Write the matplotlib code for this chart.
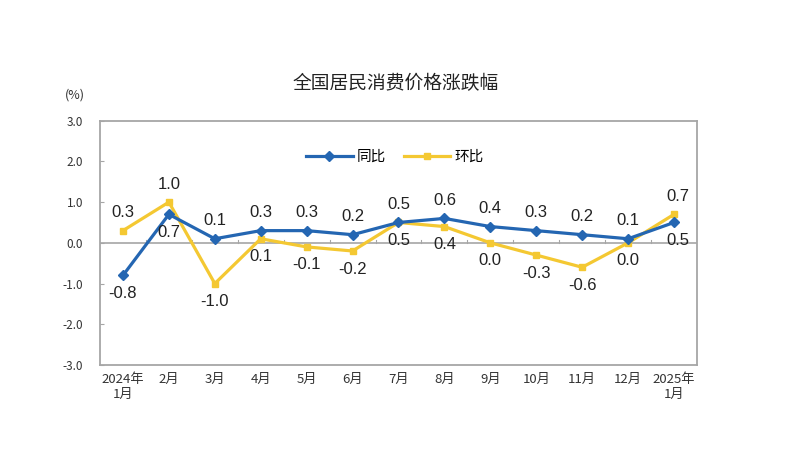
import matplotlib
matplotlib.use("Agg")
import matplotlib.pyplot as plt

plt.rcParams['font.family'] = ['Noto Sans CJK SC', 'DejaVu Sans']

# 数据
months = ["2024年\n1月", "2月", "3月", "4月", "5月", "6月", "7月",
          "8月", "9月", "10月", "11月", "12月", "2025年\n1月"]
tongbi = [-0.8, 0.7, 0.1, 0.3, 0.3, 0.2, 0.5, 0.6, 0.4, 0.3, 0.2, 0.1, 0.5]
huanbi = [0.3, 1.0, -1.0, 0.1, -0.1, -0.2, 0.5, 0.4, 0.0, -0.3, -0.6, 0.0, 0.7]

# 标签位置: 1 = 上方, -1 = 下方
tongbi_pos = [-1, -1, 1, 1, 1, 1, 1, 1, 1, 1, 1, 1, -1]
huanbi_pos = [1, 1, -1, -1, -1, -1, -1, -1, -1, -1, -1, -1, 1]

blue = "#2466B2"
yellow = "#F4C832"
gray = "#A6A6A6"

fig = plt.figure(figsize=(8, 4.63), dpi=100)
ax = fig.add_axes([0.125, 0.2117, 0.7462, 0.5276])

x = list(range(len(months)))
ax.plot(x, tongbi, color=blue, lw=2.3, marker="D", markersize=5, label="同比", zorder=4)
ax.plot(x, huanbi, color=yellow, lw=2.3, marker="s", markersize=5, label="环比", zorder=3)

ax.axhline(0, color=gray, lw=1.2, zorder=1)
for k in range(len(months) - 1):
    ax.plot([k + 0.5, k + 0.5], [0, 0.08], color=gray, lw=0.8, zorder=1)

def put_labels(vals, pos):
    for i, (v, p) in enumerate(zip(vals, pos)):
        dx = 3 if i == len(vals) - 1 else 0
        ax.annotate(f"{v:.1f}", (i, v), xytext=(dx, 13 * p), textcoords="offset points",
                    ha="center", va="center", fontsize=12, color="#222222",
                    family=["Liberation Sans", "DejaVu Sans"], zorder=5)

put_labels(tongbi, tongbi_pos)
put_labels(huanbi, huanbi_pos)

ax.set_xlim(-0.5, len(months) - 0.5)
ax.set_ylim(-3, 3)
ax.set_yticks([3, 2, 1, 0, -1, -2, -3])
ax.set_yticklabels(["3.0", "2.0", "1.0", "0.0", "-1.0", "-2.0", "-3.0"])
ax.set_xticks(x)
ax.set_xticklabels(months, multialignment="center")
ax.tick_params(axis="x", length=0, pad=6, labelsize=9.5, colors="#333333")
ax.tick_params(axis="y", direction="in", length=3, color=gray, pad=12,
               labelsize=8.5, labelcolor="#333333")

for s in ax.spines.values():
    s.set_color(gray)
    s.set_linewidth(1.3)

leg = ax.legend(loc="center", bbox_to_anchor=(0.494, 0.852), ncol=2, frameon=False,
                fontsize=10.5, handlelength=3.2, columnspacing=1.2, handletextpad=0.3)

fig.text(0.494, 0.82, "全国居民消费价格涨跌幅", ha="center", va="center", fontsize=13.5,
         color="#222222")
fig.text(0.094, 0.795, "(%)", ha="center", va="center", fontsize=9, color="#333333")

fig.savefig("out.png", dpi=100)
